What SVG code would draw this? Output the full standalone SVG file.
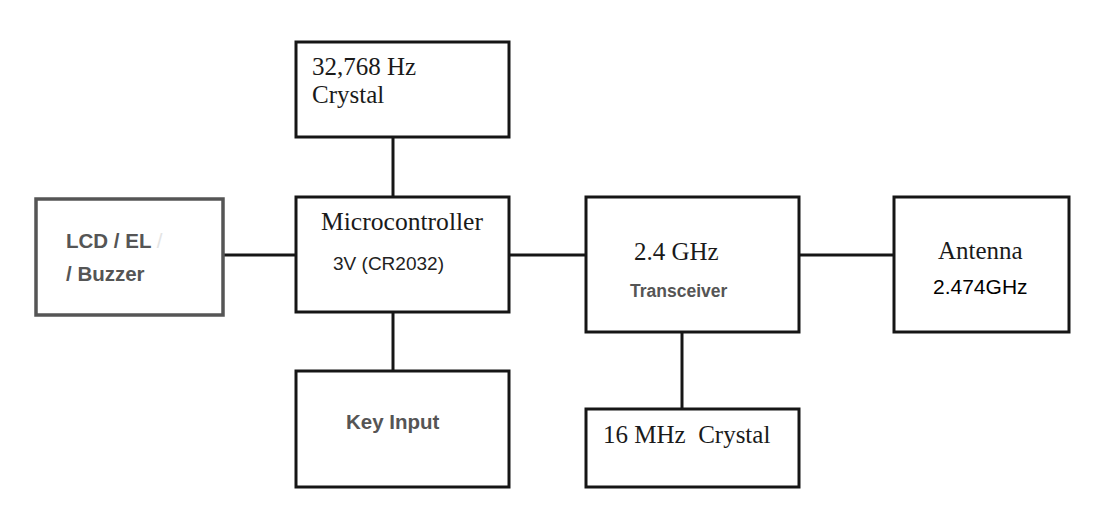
<svg xmlns="http://www.w3.org/2000/svg" width="1101" height="511" viewBox="0 0 1101 511">
<style>
.box{fill:#fff;stroke:#161616;stroke-width:3}
.gbox{fill:#fff;stroke:#555;stroke-width:3.5}
.ln{stroke:#161616;stroke-width:3;fill:none}
.serif{font-family:"Liberation Serif","Times New Roman",serif;font-size:25px;fill:#1a1a1a}
.sansb{font-family:"Liberation Sans",Arial,sans-serif;font-weight:bold;font-size:20.5px;fill:#555}
.sans{font-family:"Liberation Sans",Arial,sans-serif;font-size:19px;fill:#222}
</style>
<rect width="1101" height="511" fill="#fff"/>
<g id="connectors">
<line class="ln" x1="393" y1="137" x2="393" y2="197"/>
<line class="ln" x1="223" y1="255" x2="296" y2="255"/>
<line class="ln" x1="509" y1="255" x2="586" y2="255"/>
<line class="ln" x1="799" y1="255" x2="894" y2="255"/>
<line class="ln" x1="393" y1="312" x2="393" y2="371"/>
<line class="ln" x1="682" y1="332" x2="682" y2="409"/>
</g>
<g id="crystal32k">
<rect class="box" x="296" y="42" width="213" height="95"/>
<text class="serif" x="312" y="75">32,768 Hz</text>
<text class="serif" x="312" y="103">Crystal</text>
</g>
<g id="lcd">
<rect class="gbox" x="36" y="199" width="187" height="116"/>
<text class="sansb" x="66" y="248">LCD / EL <tspan fill="#e4e4e4" font-weight="normal">/</tspan></text>
<text class="sansb" x="66" y="281">/ Buzzer</text>
</g>
<g id="microcontroller">
<rect class="box" x="296" y="197" width="213" height="115"/>
<text class="serif" x="321" y="230" textLength="162" lengthAdjust="spacingAndGlyphs">Microcontroller</text>
<text class="sans" x="333" y="270" textLength="111" lengthAdjust="spacingAndGlyphs">3V (CR2032)</text>
</g>
<g id="transceiver">
<rect class="box" x="586" y="197" width="213" height="135"/>
<text class="serif" x="634" y="260">2.4 GHz</text>
<text class="sansb" x="630" y="297" style="font-size:17.5px">Transceiver</text>
</g>
<g id="antenna">
<rect class="box" x="894" y="197" width="175" height="135"/>
<text class="serif" x="938" y="259">Antenna</text>
<text class="sans" x="933" y="294" style="font-size:21px;fill:#000">2.474GHz</text>
</g>
<g id="keyinput">
<rect class="box" x="296" y="371" width="213" height="116"/>
<text class="sansb" x="346" y="429">Key Input</text>
</g>
<g id="crystal16m">
<rect class="box" x="586" y="409" width="213" height="78"/>
<text class="serif" x="603" y="443" xml:space="preserve">16 MHz  Crystal</text>
</g>
</svg>
